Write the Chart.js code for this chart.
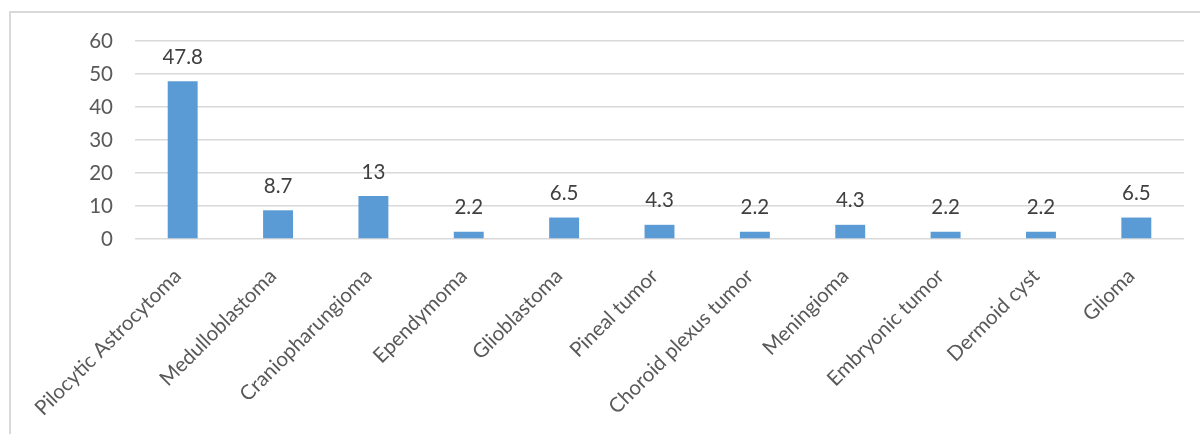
<!DOCTYPE html>
<html>
<head>
<meta charset="utf-8">
<script src="https://cdn.jsdelivr.net/npm/chart.js@4.4.1/dist/chart.umd.min.js"></script>
<style>
  html, body { margin: 0; padding: 0; background: #fff; }
  #wrap { position: relative; width: 1200px; height: 434px; overflow: hidden; }
  #marco { position: absolute; left: 9px; top: 11px; width: 1300px; height: 500px;
           border-left: 2px solid #d9d9d9; border-top: 2px solid #d9d9d9; }
  canvas { position: absolute; left: 0; top: 0; }
</style>
</head>
<body>
<div id="wrap">
  <div id="marco"></div>
  <canvas id="grafica" width="1200" height="434"></canvas>
</div>
<script>
const tumores = ["Pilocytic Astrocytoma", "Medulloblastoma", "Craniopharungioma", "Ependymoma",
  "Glioblastoma", "Pineal tumor", "Choroid plexus tumor", "Meningioma",
  "Embryonic tumor", "Dermoid cyst", "Glioma"];
const porcentajes = [47.8, 8.7, 13, 2.2, 6.5, 4.3, 2.2, 4.3, 2.2, 2.2, 6.5];
const ticksY = [0, 10, 20, 30, 40, 50, 60];

const fuente = "Lato, 'Open Sans', sans-serif";

// etiquetas encima de cada barra
const etiquetasBarras = {
  id: "etiquetasBarras",
  afterDatasetsDraw(chart) {
    const ctx = chart.ctx;
    const meta = chart.getDatasetMeta(0);
    ctx.save();
    ctx.font = "20.5px " + fuente;
    ctx.fillStyle = "#404040";
    ctx.textAlign = "center";
    ctx.textBaseline = "middle";
    meta.data.forEach((bar, i) => {
      ctx.fillText(String(porcentajes[i]), bar.x, bar.y - 24);
    });
    ctx.restore();
  }
};

let ctx = document.getElementById("grafica").getContext("2d");
let grafica = new Chart(ctx, {
  type: "bar",
  data: {
    labels: tumores,
    datasets: [{
      data: porcentajes,
      backgroundColor: "#5b9bd5",
      barPercentage: 0.314,
      categoryPercentage: 1
    }]
  },
  options: {
    responsive: false,
    animation: false,
    layout: { padding: { left: 0, right: 16, top: 41, bottom: 0 } },
    plugins: { legend: { display: false }, tooltip: { enabled: false } },
    scales: {
      x: {
        grid: { display: false },
        border: { display: false },
        ticks: {
          color: "#595959",
          font: { family: fuente, size: 20.5 },
          minRotation: 45, maxRotation: 45,
          autoSkip: false,
          padding: 17,
          labelOffset: -5
        },
        afterFit: s => { s.height = 195; }
      },
      y: {
        min: 0, max: 60,
        afterBuildTicks: s => { s.ticks = ticksY.map(v => ({ value: v })); },
        grid: { color: "#d9d9d9", lineWidth: 1.5, drawTicks: false },
        border: { display: false },
        ticks: {
          color: "#595959",
          font: { family: fuente, size: 20.5 },
          padding: 22
        },
        afterFit: s => { s.width = 135; }
      }
    }
  },
  plugins: [etiquetasBarras]
});
</script>
</body>
</html>
